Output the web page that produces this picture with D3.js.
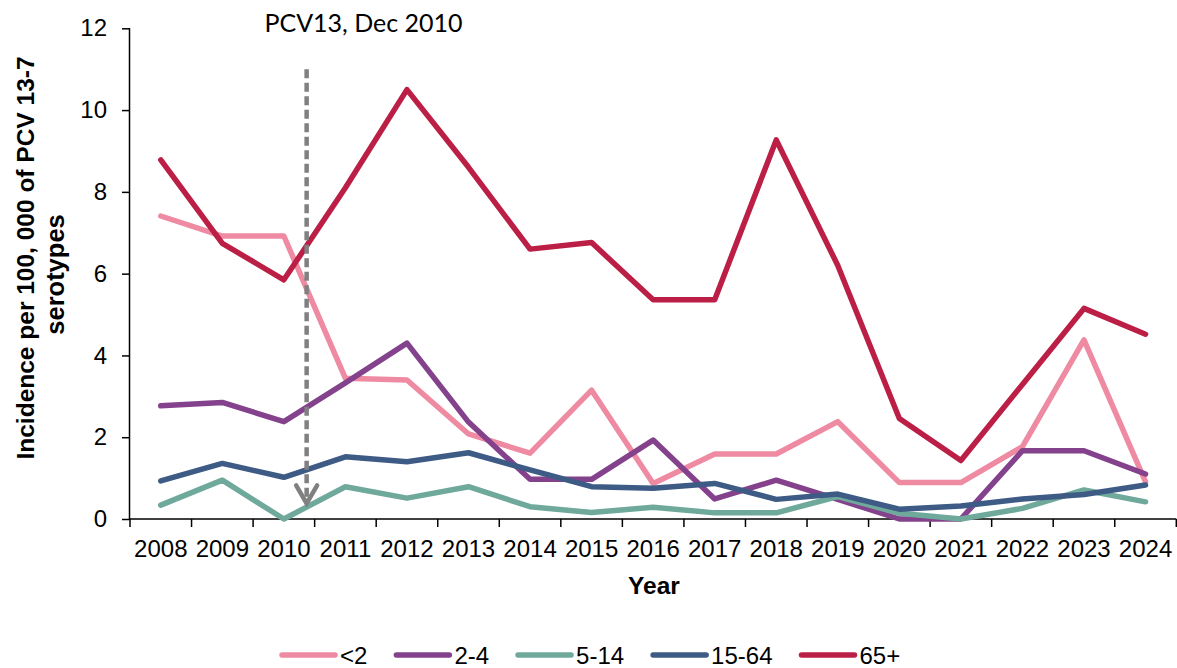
<!DOCTYPE html>
<html>
<head>
<meta charset="utf-8">
<script src="https://cdn.jsdelivr.net/npm/d3@7"></script>
<style>
  html, body { margin: 0; padding: 0; background: #fff; }
  svg { display: block; }
</style>
</head>
<body>
<svg id="chart" width="1177" height="668"></svg>
<script>
// ---- Data ----
const years = ["2008","2009","2010","2011","2012","2013","2014","2015","2016","2017","2018","2019","2020","2021","2022","2023","2024"];
const seriesNames = ["<2", "2-4", "5-14", "15-64", "65+"];
const under2   = [7.41, 6.92, 6.92, 3.44, 3.40, 2.08, 1.61, 3.15, 0.87, 1.59, 1.59, 2.38, 0.89, 0.89, 1.77, 4.38, 0.91];
const age2to4  = [2.77, 2.85, 2.38, 3.33, 4.30, 2.37, 0.97, 0.97, 1.93, 0.49, 0.95, 0.48, 0.00, 0.00, 1.67, 1.67, 1.10];
const age5to14 = [0.34, 0.95, 0.00, 0.79, 0.51, 0.79, 0.30, 0.16, 0.29, 0.15, 0.15, 0.55, 0.14, 0.00, 0.26, 0.71, 0.42];
const age15to64= [0.93, 1.36, 1.02, 1.52, 1.40, 1.62, 1.20, 0.79, 0.75, 0.87, 0.48, 0.61, 0.24, 0.32, 0.49, 0.60, 0.83];
const age65plus= [8.78, 6.74, 5.85, 8.10, 10.50, 8.60, 6.60, 6.76, 5.36, 5.36, 9.27, 6.20, 2.46, 1.43, 3.29, 5.15, 4.52];
const yTicks = [0, 2, 4, 6, 8, 10, 12];
const seriesColors = ["#EE8AA1", "#84418C", "#6FA99B", "#3D5B85", "#BC1F46"];
const annotationText = "PCV13, Dec 2010";
const annotationYear = "2010";   // arrow placed after this year
const annotationOffset = 0.37;   // fraction of a year step after 2010 (Dec 2010)
const annotationTop = 11.0;
const annotationBottom = 0.38;

const seriesValues = [under2, age2to4, age5to14, age15to64, age65plus];

// ---- Layout ----
const svg = d3.select("#chart");
const mLeft = 130, mRight = 1176.3, mTop = 28.3, mBottom = 519;
const tickFont = "'Liberation Sans', Arial, sans-serif";

const x = d3.scaleBand().domain(years).range([mLeft, mRight]).padding(0);
const y = d3.scaleLinear().domain([0, 12]).range([mBottom, mTop]);
const cx = yr => x(yr) + x.bandwidth() / 2;

// ---- Y axis ----
const yAxis = svg.append("g")
  .attr("transform", `translate(${mLeft},0)`)
  .call(d3.axisLeft(y).tickValues(yTicks).tickSize(8).tickPadding(15).tickFormat(d3.format("d")));
yAxis.selectAll("text").attr("font-family", tickFont).attr("font-size", 24).attr("fill", "#000");
yAxis.selectAll("line").attr("stroke", "#000").attr("stroke-width", 1.5);
yAxis.select(".domain").attr("stroke", "#000").attr("stroke-width", 1.5).attr("d", `M-0.5,${mTop}V${mBottom}`);

// ---- X axis ----
const xAxis = svg.append("g")
  .attr("transform", `translate(0,${mBottom})`)
  .call(d3.axisBottom(x).tickSize(0).tickPadding(0));
xAxis.select(".domain").attr("stroke", "#000").attr("stroke-width", 1.5).attr("d", `M${mLeft},0H${mRight}`);
xAxis.selectAll(".tick text").attr("font-family", tickFont).attr("font-size", 24).attr("fill", "#000")
  .attr("y", 38).attr("dy", 0);
const boundaries = years.map(yr => x(yr)).concat([mRight]);
xAxis.selectAll(".bline").data(boundaries).enter().append("line")
  .attr("x1", d => d).attr("x2", d => d).attr("y1", 0).attr("y2", 8)
  .attr("stroke", "#000").attr("stroke-width", 1.5);

// ---- Axis titles ----
svg.append("text")
  .attr("transform", `translate(34,258) rotate(-90)`)
  .attr("text-anchor", "middle")
  .attr("font-family", tickFont).attr("font-weight", "bold").attr("font-size", 24.5)
  .text("Incidence per 100, 000 of PCV 13-7");
svg.append("text")
  .attr("transform", `translate(64,274.5) rotate(-90)`)
  .attr("text-anchor", "middle")
  .attr("font-family", tickFont).attr("font-weight", "bold").attr("font-size", 25.5)
  .text("serotypes");
svg.append("text")
  .attr("x", 654).attr("y", 594)
  .attr("text-anchor", "middle")
  .attr("font-family", tickFont).attr("font-weight", "bold").attr("font-size", 24.5)
  .text("Year");

// ---- Lines ----
const line = d3.line().x((d, i) => cx(years[i])).y(d => y(d));
seriesValues.forEach((vals, si) => {
  svg.append("path")
    .datum(vals)
    .attr("d", line)
    .attr("fill", "none")
    .attr("stroke", seriesColors[si])
    .attr("stroke-width", 5.5)
    .attr("stroke-linejoin", "round")
    .attr("stroke-linecap", "round");
});

// ---- Annotation arrow ----
const ax = cx(annotationYear) + annotationOffset * x.bandwidth();
const yTop = y(annotationTop), yTip = y(annotationBottom);
svg.append("line")
  .attr("x1", ax).attr("x2", ax).attr("y1", yTop).attr("y2", yTip - 2)
  .attr("stroke", "#808080").attr("stroke-width", 4.5)
  .attr("stroke-dasharray", "9,4.5");
svg.append("path")
  .attr("d", `M${ax - 10.5},${yTip - 18}L${ax},${yTip}L${ax + 10.5},${yTip - 18}`)
  .attr("fill", "none").attr("stroke", "#808080").attr("stroke-width", 4.5)
  .attr("stroke-linejoin", "miter").attr("stroke-linecap", "round");
svg.append("text")
  .attr("x", 363.5).attr("y", 31.5)
  .attr("text-anchor", "middle")
  .attr("font-family", "Lato, 'Open Sans', sans-serif").attr("font-size", 25)
  .attr("fill", "#000")
  .text(annotationText);

// ---- Legend ----
const legend = svg.append("g");
const lineLen = 53, textGap = 5, itemGap = 29, legendY = 655;
let cursor = 0;
seriesNames.forEach((name, i) => {
  const g = legend.append("g");
  g.append("line")
    .attr("x1", 0).attr("x2", lineLen).attr("y1", 0).attr("y2", 0)
    .attr("stroke", seriesColors[i]).attr("stroke-width", 5.5).attr("stroke-linecap", "round");
  const t = g.append("text")
    .attr("x", lineLen + textGap).attr("y", 8.5)
    .attr("font-family", tickFont).attr("font-size", 24).attr("fill", "#000")
    .text(name);
  const w = lineLen + textGap + t.node().getComputedTextLength();
  g.attr("transform", `translate(${cursor},${legendY})`);
  cursor += w + itemGap;
});
legend.attr("transform", `translate(282,0)`);
</script>
</body>
</html>
